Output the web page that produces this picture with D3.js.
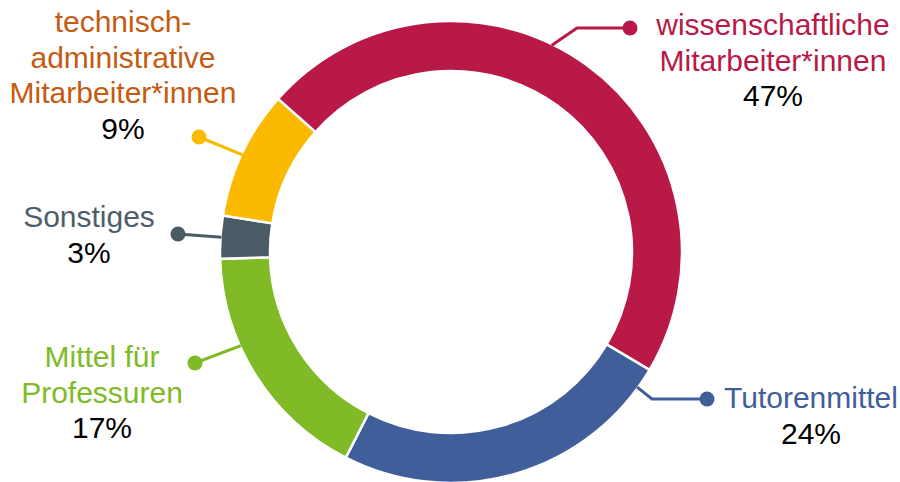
<!DOCTYPE html>
<html>
<head>
<meta charset="utf-8">
<script src="https://cdn.jsdelivr.net/npm/d3@7"></script>
<style>
  body { margin: 0; background: #fff; }
  text { font-family: "Liberation Sans", Arial, sans-serif; font-size: 30px; }
</style>
</head>
<body>
<div id="chart"></div>
<script>
// data
const categories = ["wissenschaftliche Mitarbeiter*innen", "Tutorenmittel", "Mittel für Professuren", "Sonstiges", "technisch-administrative Mitarbeiter*innen"];
const shares = [47, 24, 17, 3, 9];
const labelLines = [
  ["wissenschaftliche", "Mitarbeiter*innen"],
  ["Tutorenmittel"],
  ["Mittel für", "Professuren"],
  ["Sonstiges"],
  ["technisch-", "administrative", "Mitarbeiter*innen"]
];
const sliceColors = ["#B91947", "#405E9A", "#80BA27", "#4B5B65", "#FBBA00"];
const labelColors = ["#B91947", "#405E9A", "#80BA27", "#4E5E68", "#C55A11"];

// label placement (x = text centre, y = first baseline, dot, elbow, attach angle in degrees)
const labelLayout = [
  { x: 773, y: 35, dot: [630, 28], elbow: [577, 28], attach: 26 },
  { x: 811, y: 408, dot: [707, 399], elbow: [652, 399], attach: 126 },
  { x: 102, y: 367, dot: [195, 363], elbow: null, attach: 246 },
  { x: 89, y: 227, dot: [178, 234], elbow: null, attach: 273.7 },
  { x: 123, y: 32, dot: [199, 137], elbow: null, attach: 295 }
];

let width = 900;
let height = 482;
let cx = 451, cy = 252;
let outerR = 231, innerR = 181;
let lineH = 35.5;

let svg = d3.select("#chart")
  .append("svg")
  .attr("width", width)
  .attr("height", height);

let startDeg = -48.5;
let pie = d3.pie()
  .sort(null)
  .value(d => d)
  .startAngle(startDeg * Math.PI / 180)
  .endAngle((startDeg + 360) * Math.PI / 180);

let arc = d3.arc().innerRadius(innerR).outerRadius(outerR);

let ring = svg.append("g").attr("transform", `translate(${cx},${cy})`);

ring.selectAll("path")
  .data(pie(shares))
  .enter()
  .append("path")
  .attr("d", arc)
  .attr("fill", (d, i) => sliceColors[i])
  .attr("stroke", "#fff")
  .attr("stroke-width", 2.5);

// leader lines
let labels = svg.append("g");

labelLayout.forEach((l, i) => {
  let a = l.attach * Math.PI / 180;
  let start = [cx + (outerR - 1) * Math.sin(a), cy - (outerR - 1) * Math.cos(a)];
  let pts = [start];
  if (l.elbow) pts.push(l.elbow);
  pts.push(l.dot);

  labels.append("path")
    .attr("d", d3.line()(pts))
    .attr("fill", "none")
    .attr("stroke", sliceColors[i])
    .attr("stroke-width", 3);

  labels.append("circle")
    .attr("cx", l.dot[0])
    .attr("cy", l.dot[1])
    .attr("r", 7.5)
    .attr("fill", sliceColors[i]);

  let t = labels.append("text")
    .attr("text-anchor", "middle");

  labelLines[i].forEach((s, j) => {
    t.append("tspan")
      .attr("x", l.x)
      .attr("y", l.y + j * lineH)
      .attr("fill", labelColors[i])
      .text(s);
  });
  t.append("tspan")
    .attr("x", l.x)
    .attr("y", l.y + labelLines[i].length * lineH)
    .attr("fill", "#000")
    .text(shares[i] + "%");
});
</script>
</body>
</html>
